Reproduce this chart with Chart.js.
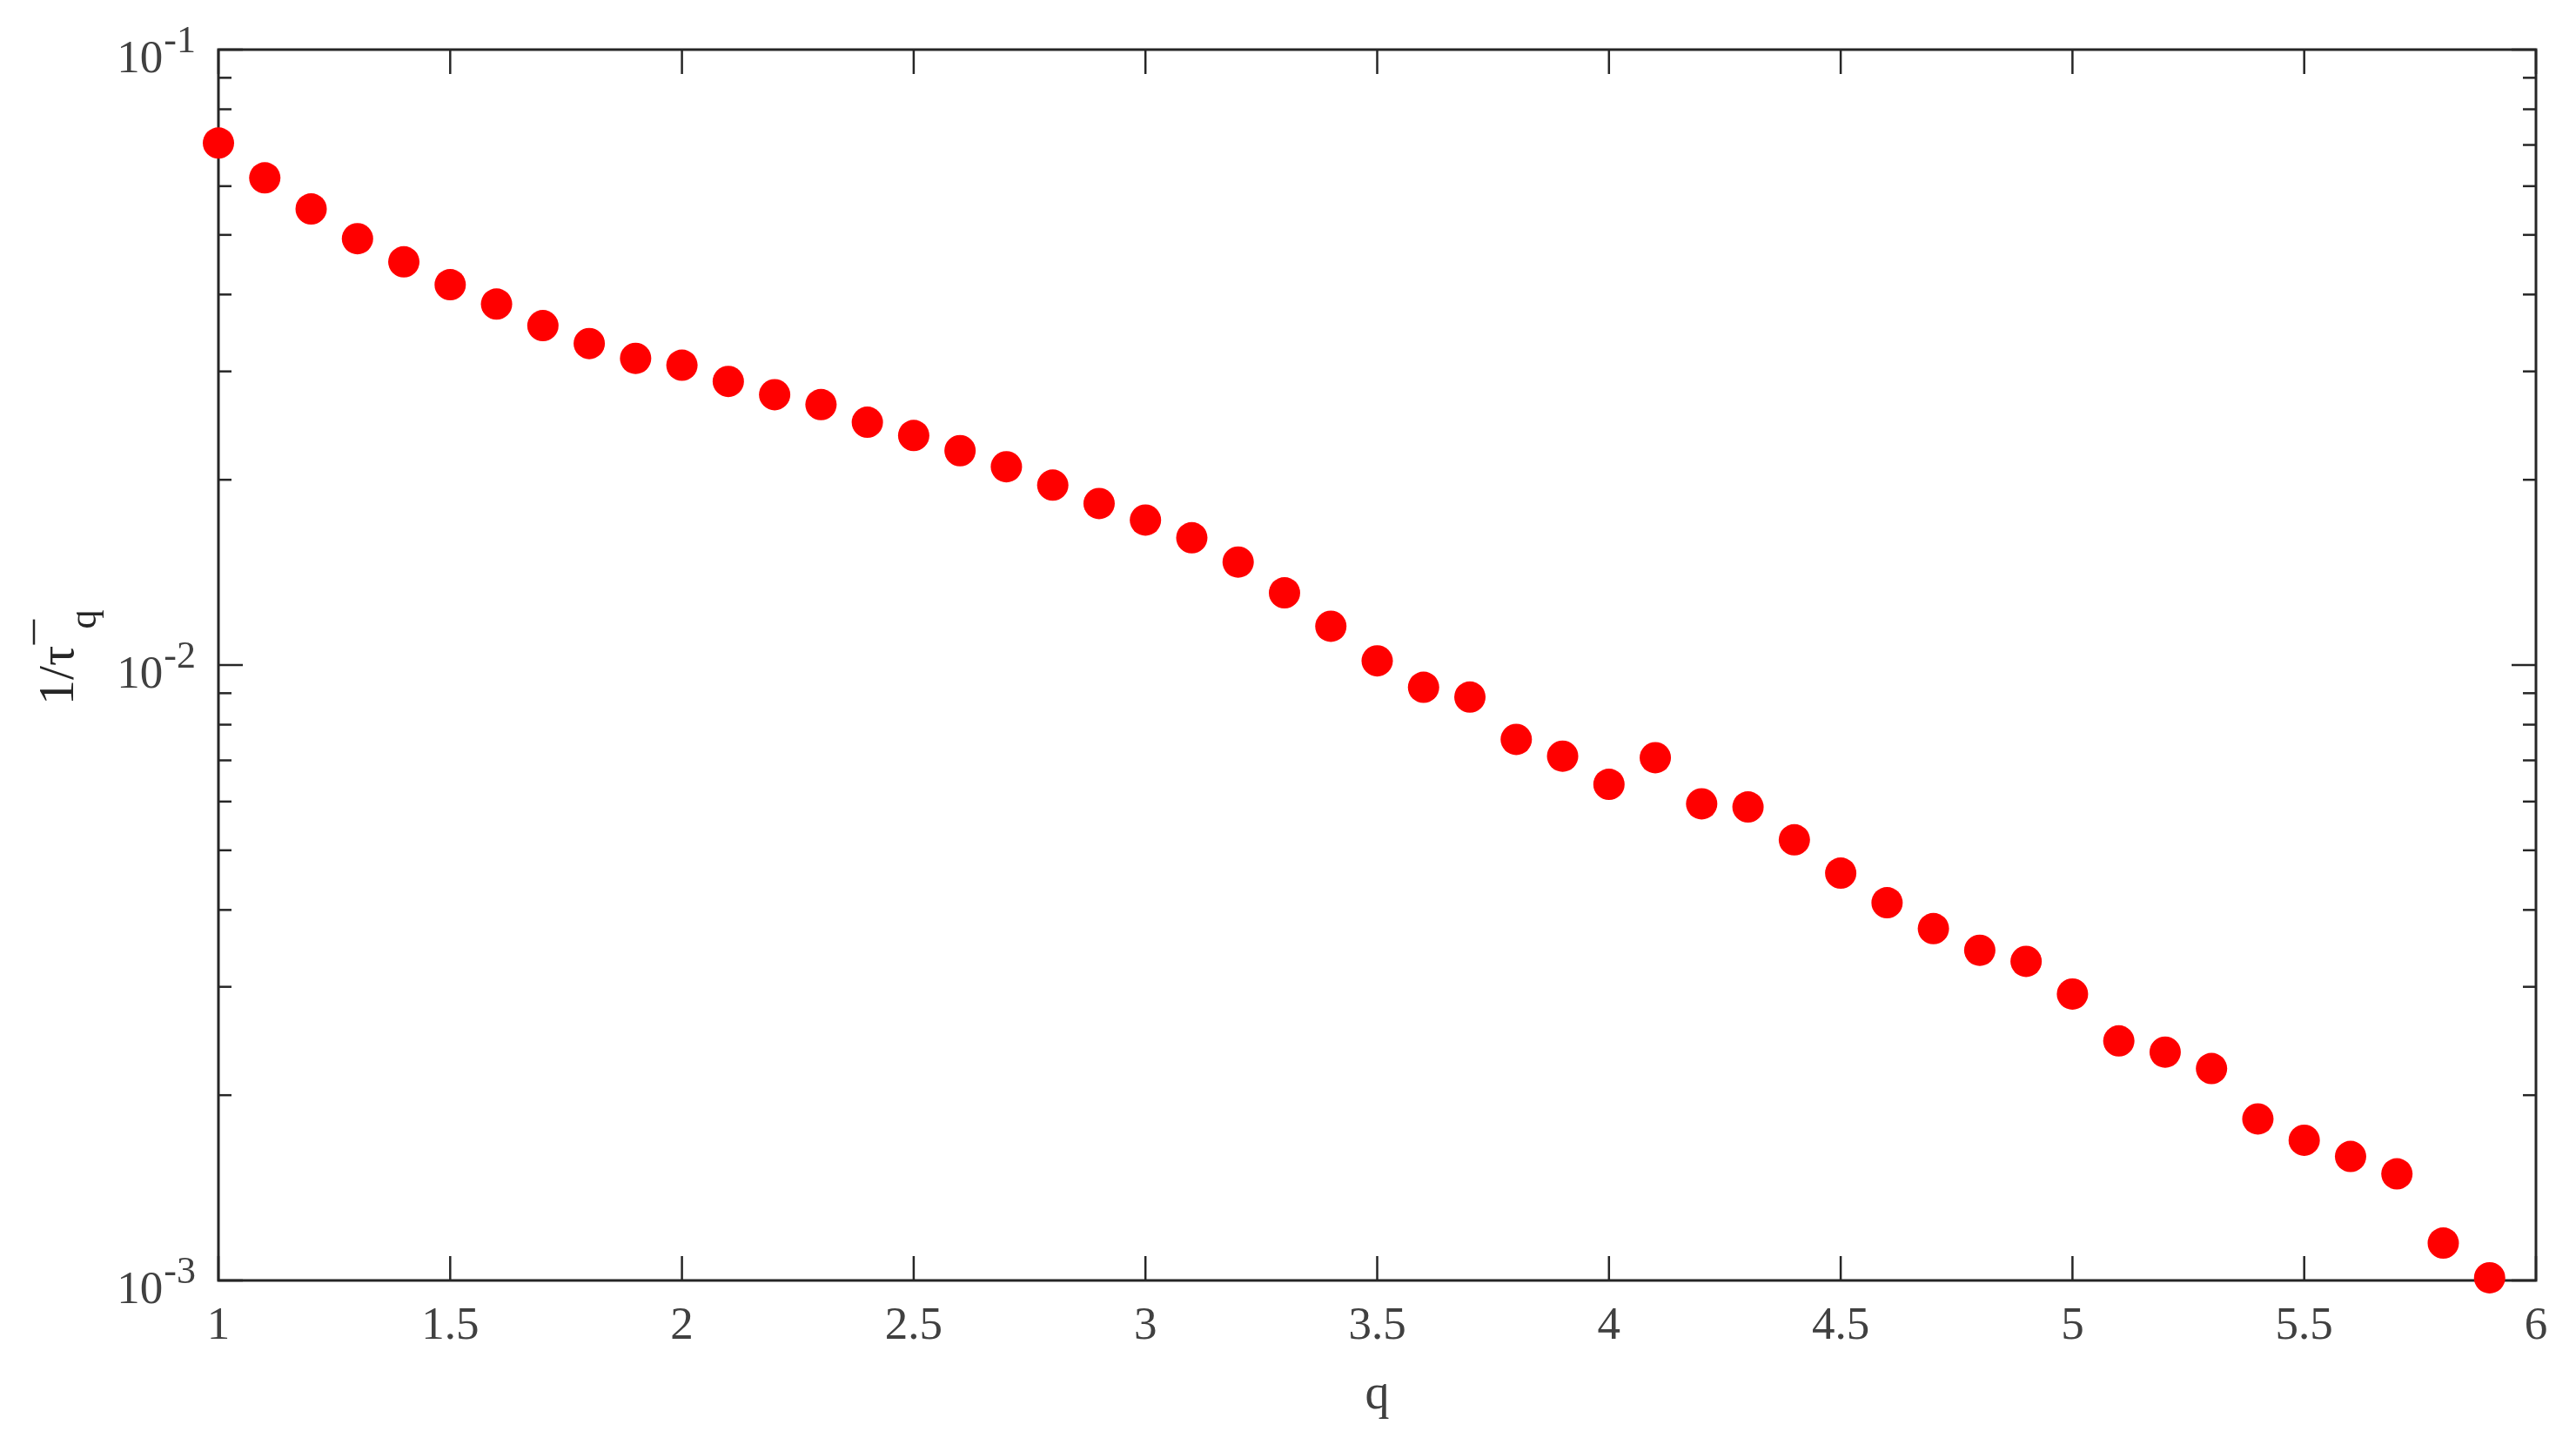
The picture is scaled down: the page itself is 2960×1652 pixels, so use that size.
<!DOCTYPE html>
<html>
<head>
<meta charset="utf-8">
<script src="https://cdn.jsdelivr.net/npm/chart.js@4"></script>
<style>
  html, body { margin: 0; padding: 0; background: #fff; }
  canvas { display: block; }
</style>
</head>
<body>
<canvas id="tauChart" width="2960" height="1652"></canvas>
<script>
// q values and 1/tau_q
const qValues = [1.0, 1.1, 1.2, 1.3, 1.4, 1.5, 1.6, 1.7, 1.8, 1.9,
                 2.0, 2.1, 2.2, 2.3, 2.4, 2.5, 2.6, 2.7, 2.8, 2.9,
                 3.0, 3.1, 3.2, 3.3, 3.4, 3.5, 3.6, 3.7, 3.8, 3.9,
                 4.0, 4.1, 4.2, 4.3, 4.4, 4.5, 4.6, 4.7, 4.8, 4.9,
                 5.0, 5.1, 5.2, 5.3, 5.4, 5.5, 5.6, 5.7, 5.8, 5.9];
const tauInv = [0.0705, 0.0619, 0.0551, 0.0493, 0.0452, 0.0415, 0.0386, 0.0356, 0.0333, 0.0315,
                0.0307, 0.0289, 0.0275, 0.0265, 0.0248, 0.0236, 0.0223, 0.0210, 0.0196, 0.0183,
                0.0172, 0.0161, 0.0147, 0.0131, 0.01156, 0.01016, 0.0092, 0.00887, 0.00757, 0.00711,
                0.0064, 0.00707, 0.00595, 0.00588, 0.0052, 0.00459, 0.00411, 0.00373, 0.00344, 0.0033,
                0.00292, 0.00245, 0.00235, 0.00221, 0.00183, 0.00169, 0.00159, 0.00149, 0.00115, 0.00101];

const xTicks = [1, 1.5, 2, 2.5, 3, 3.5, 4, 4.5, 5, 5.5, 6];
const xTickLabels = ["1", "1.5", "2", "2.5", "3", "3.5", "4", "4.5", "5", "5.5", "6"];
const yTicks = [0.001, 0.01, 0.1];
const yTickExps = ["-3", "-2", "-1"];

const SERIF = '"Liberation Serif", "Times New Roman", serif';

function line(ctx, x1, y1, x2, y2) {
    ctx.beginPath();
    ctx.moveTo(x1, y1);
    ctx.lineTo(x2, y2);
    ctx.stroke();
}

// box, inward ticks and labels, drawn under the markers
const matlabFrame = {
    id: "matlabFrame",
    beforeDatasetsDraw(chart) {
        const { ctx, chartArea: a, scales: { x, y } } = chart;
        ctx.save();
        ctx.strokeStyle = "#262626";
        ctx.lineWidth = 3;
        ctx.strokeRect(a.left, a.top, a.right - a.left, a.bottom - a.top);

        ctx.lineWidth = 2.5;
        xTicks.forEach(v => {
            const px = x.getPixelForValue(v);
            line(ctx, px, a.bottom, px, a.bottom - 28);
            line(ctx, px, a.top, px, a.top + 28);
        });
        for (let e = -3; e < -1 + 0.5; e++) {
            for (let m = 1; m <= 9; m++) {
                const v = m * Math.pow(10, e);
                if (v > 0.1 * 1.0001) continue;
                const py = y.getPixelForValue(v);
                const len = m === 1 ? 28 : 15;
                line(ctx, a.left, py, a.left + len, py);
                line(ctx, a.right, py, a.right - len, py);
            }
        }

        // x tick labels
        ctx.fillStyle = "#404040";
        ctx.font = "53px " + SERIF;
        ctx.textAlign = "center";
        ctx.textBaseline = "middle";
        xTicks.forEach((v, i) => {
            ctx.fillText(xTickLabels[i], x.getPixelForValue(v), 1524);
        });

        // y tick labels 10^n
        ctx.textAlign = "left";
        ctx.textBaseline = "alphabetic";
        yTicks.forEach((v, i) => {
            const py = y.getPixelForValue(v);
            ctx.font = "44px " + SERIF;
            const wSup = ctx.measureText(yTickExps[i]).width;
            ctx.font = "53px " + SERIF;
            const wBase = ctx.measureText("10").width;
            const right = a.left - 27;
            const x0 = right - wSup - wBase;
            ctx.fillText("10", x0, py + 26);
            ctx.font = "44px " + SERIF;
            ctx.fillText(yTickExps[i], x0 + wBase + 1, py + 3);
        });

        // x axis title
        ctx.font = "56px " + SERIF;
        ctx.textAlign = "center";
        ctx.textBaseline = "middle";
        ctx.fillText("q", (a.left + a.right) / 2, 1603);

        // y axis title: 1/tau-bar with subscript q
        ctx.fillStyle = "#262626";
        ctx.strokeStyle = "#262626";
        ctx.translate(84, 810);
        ctx.rotate(-Math.PI / 2);
        ctx.textAlign = "left";
        ctx.textBaseline = "alphabetic";
        ctx.font = "58px " + SERIF;
        const wMain = ctx.measureText("1/\u03c4").width;
        ctx.fillText("1/\u03c4", 0, 0);
        ctx.lineWidth = 2.5;
        line(ctx, wMain + 1, -45, wMain + 30, -45);
        ctx.font = "44px " + SERIF;
        ctx.fillText("q", wMain + 19, 26);
        ctx.restore();
    }
};

new Chart(document.getElementById("tauChart"), {
    type: "scatter",
    data: {
        datasets: [{
            data: qValues.map((q, i) => ({ x: q, y: tauInv[i] })),
            backgroundColor: "#ff0000",
            borderColor: "#ff0000",
            borderWidth: 0,
            pointRadius: 18,
            pointHoverRadius: 18,
            clip: false
        }]
    },
    options: {
        responsive: false,
        animation: false,
        devicePixelRatio: 1,
        layout: { padding: { left: 251, right: 46, top: 57, bottom: 181 } },
        plugins: { legend: { display: false }, tooltip: { enabled: false } },
        scales: {
            x: {
                type: "linear",
                min: 1,
                max: 6,
                grid: { display: false },
                border: { display: false },
                ticks: { display: false },
                afterFit: s => { s.height = 0; }
            },
            y: {
                type: "logarithmic",
                min: 0.001,
                max: 0.1,
                grid: { display: false },
                border: { display: false },
                ticks: { display: false },
                afterFit: s => { s.width = 0; }
            }
        }
    },
    plugins: [matlabFrame]
});
</script>
</body>
</html>
